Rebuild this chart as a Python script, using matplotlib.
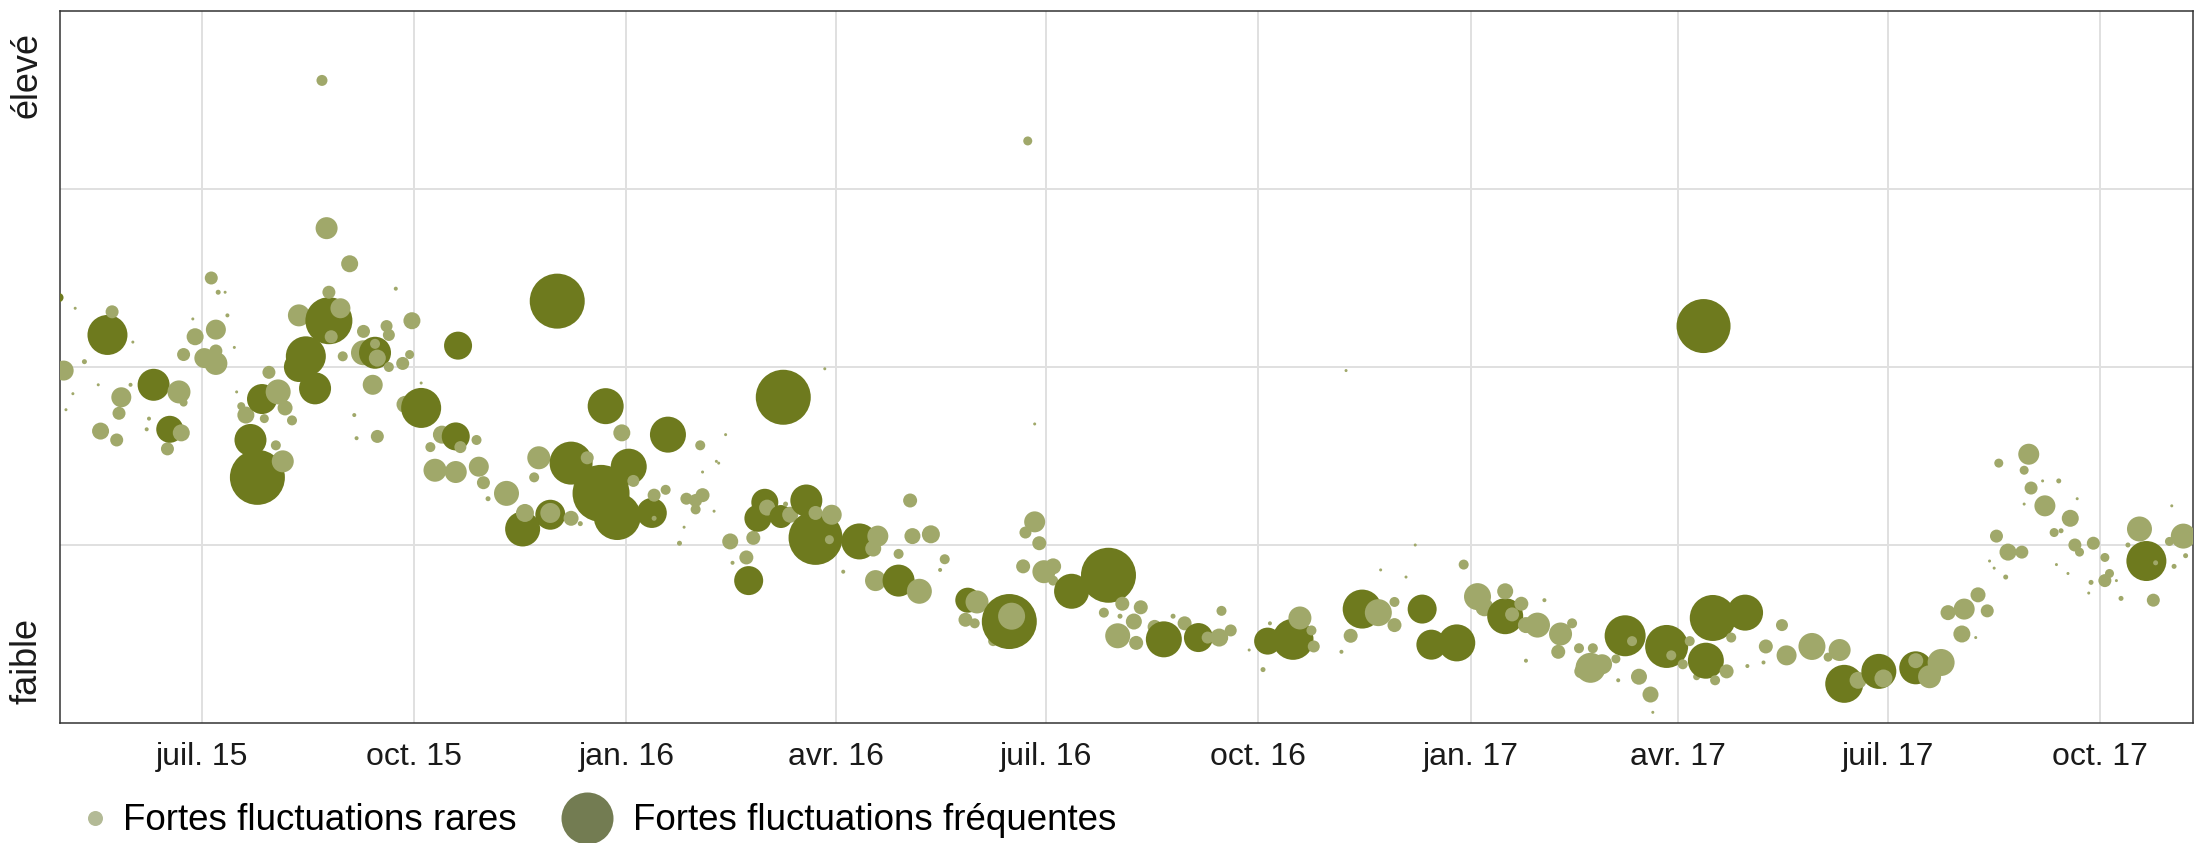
import datetime as dt

import numpy as np
import pandas as pd
import matplotlib
matplotlib.use("Agg")
import matplotlib.pyplot as plt
import matplotlib.dates as mdates
from matplotlib.lines import Line2D
from matplotlib.ticker import FixedLocator, FuncFormatter

plt.rcParams["font.family"] = ["Liberation Sans", "DejaVu Sans"]

DPI = 100

# niveau : 0 = faible ... 4 = élevé ; ampleur : taille du point (diamètre en px)

# -- fortes fluctuations fréquentes (points foncés)
dates_freq = [
    "2015-04-30", "2015-05-21", "2015-06-10", "2015-06-17", "2015-07-22", "2015-07-25",
    "2015-07-27", "2015-08-12", "2015-08-15", "2015-08-19", "2015-08-25", "2015-09-14",
    "2015-10-04", "2015-10-19", "2015-10-20", "2015-11-17", "2015-11-29", "2015-12-02",
    "2015-12-08", "2015-12-21", "2015-12-23", "2015-12-28", "2016-01-02", "2016-01-12",
    "2016-01-19", "2016-02-23", "2016-02-27", "2016-03-01", "2016-03-08", "2016-03-09",
    "2016-03-19", "2016-03-23", "2016-04-11", "2016-04-28", "2016-05-28", "2016-06-15",
    "2016-07-12", "2016-07-28", "2016-08-21", "2016-09-05", "2016-10-05", "2016-10-16",
    "2016-11-15", "2016-12-11", "2016-12-15", "2016-12-26", "2017-01-16", "2017-03-09",
    "2017-03-27", "2017-04-12", "2017-04-13", "2017-04-16", "2017-04-30", "2017-06-12",
    "2017-06-27", "2017-07-13", "2017-10-21",
]
niveau_freq = [
    2.39, 2.18, 1.90, 1.65, 1.59, 1.38,
    1.82, 2.00, 2.06, 1.88, 2.26, 2.08,
    1.77, 1.61, 2.12, 1.09, 1.17, 2.37,
    1.46, 1.29, 1.78, 1.16, 1.44, 1.18,
    1.62, 0.80, 1.15, 1.24, 1.16, 1.83,
    1.25, 1.04, 1.02, 0.80, 0.69, 0.57,
    0.74, 0.83, 0.47, 0.48, 0.46, 0.47,
    0.64, 0.64, 0.44, 0.45, 0.60, 0.49,
    0.43, 2.23, 0.35, 0.59, 0.62, 0.22,
    0.29, 0.31, 0.91,
]
ampleur_freq = [
    9, 40, 32, 27, 32, 55,
    30, 30, 40, 32, 47, 32,
    40, 28, 28, 35, 30, 55,
    43, 57, 36, 47, 36, 30,
    36, 29, 27, 27, 23, 55,
    32, 54, 36, 32, 25, 55,
    35, 55, 36, 29, 27, 41,
    39, 29, 30, 37, 36, 41,
    43, 54, 36, 46, 36, 38,
    35, 33, 40,
]

# -- fortes fluctuations rares (points clairs)
dates_rares = [
    "2015-05-02", "2015-05-23", "2015-05-27", "2015-06-21", "2015-05-26", "2015-05-18", "2015-05-25", "2015-06-22",
    "2015-06-16", "2015-06-23", "2015-07-05", "2015-07-07", "2015-06-28", "2015-06-23", "2015-07-02", "2015-07-07",
    "2015-07-07", "2015-08-24", "2015-09-03", "2015-08-25", "2015-08-12", "2015-08-30", "2015-08-26", "2015-08-03",
    "2015-08-06", "2015-07-30", "2015-07-20", "2015-07-18", "2015-07-28", "2015-08-09", "2015-08-02", "2015-08-05",
    "2015-09-09", "2015-08-31", "2015-09-09", "2015-09-15", "2015-09-14", "2015-09-19", "2015-09-20", "2015-09-30",
    "2015-09-20", "2015-09-26", "2015-09-29", "2015-09-13", "2015-09-15", "2015-09-27", "2015-10-13", "2015-10-21",
    "2015-10-28", "2015-10-08", "2015-10-10", "2015-10-19", "2015-10-29", "2015-10-31", "2015-08-22", "2015-12-30",
    "2016-02-02", "2015-11-24", "2015-12-15", "2016-01-04", "2016-01-13", "2016-01-18", "2015-11-29", "2015-11-10",
    "2015-11-18", "2015-11-22", "2015-12-08", "2016-01-27", "2016-01-31", "2016-01-31", "2016-03-02", "2016-03-12",
    "2016-03-23", "2016-03-30", "2016-04-19", "2016-04-17", "2016-02-15", "2016-02-25", "2016-02-22", "2016-03-29",
    "2016-02-03", "2016-04-18", "2016-05-07", "2016-05-03", "2016-05-04", "2016-05-12", "2016-04-28", "2016-05-18",
    "2016-06-01", "2016-05-27", "2016-05-31", "2016-06-16", "2016-06-08", "2016-06-26", "2016-06-22", "2016-06-28",
    "2016-06-21", "2016-06-30", "2016-07-04", "2016-07-04", "2016-08-03", "2016-08-11", "2016-07-26", "2016-08-08",
    "2016-08-01", "2016-08-09", "2016-08-17", "2016-08-30", "2016-09-09", "2016-09-14", "2016-09-19", "2016-09-15",
    "2016-06-23", "2016-10-19", "2016-10-24", "2016-10-25", "2016-11-22", "2016-11-29", "2016-11-29", "2016-11-10",
    "2016-12-29", "2017-01-04", "2017-01-07", "2017-01-12", "2017-01-16", "2017-01-23", "2017-01-19", "2017-01-30",
    "2017-01-25", "2017-02-09", "2017-02-14", "2017-02-08", "2017-02-17", "2017-02-23", "2017-02-22", "2017-02-27",
    "2017-02-18", "2017-03-12", "2017-03-05", "2017-03-29", "2017-03-15", "2017-03-20", "2017-04-06", "2017-04-03",
    "2017-04-24", "2017-04-22", "2017-05-09", "2017-04-17", "2017-04-09", "2017-07-24", "2017-07-19", "2017-06-29",
    "2017-06-18", "2017-07-13", "2017-05-29", "2017-05-18", "2017-06-10", "2017-06-05", "2017-05-16", "2017-08-02",
    "2017-07-27", "2017-08-03", "2017-08-09", "2017-08-13", "2017-08-17", "2017-08-22", "2017-08-28", "2017-08-31",
    "2017-08-29", "2017-08-18", "2017-09-01", "2017-09-07", "2017-09-18", "2017-09-11", "2017-09-20", "2017-09-22",
    "2017-09-28", "2017-10-03", "2017-10-05", "2017-10-03", "2017-10-18", "2017-11-06", "2017-10-31", "2017-10-24",
]
niveau_rares = [
    1.98, 2.31, 1.83, 1.86, 1.74, 1.64, 1.59, 1.63,
    1.54, 1.80, 2.50, 2.21, 2.17, 2.07, 2.05, 2.02,
    2.09, 2.78, 2.58, 2.42, 2.29, 2.33, 2.17, 1.86,
    1.77, 1.97, 1.73, 1.78, 1.71, 1.70, 1.56, 1.47,
    2.20, 2.06, 2.08, 2.05, 2.13, 2.23, 2.18, 2.26,
    2.00, 2.02, 2.07, 1.90, 1.61, 1.79, 1.62, 1.55,
    1.59, 1.55, 1.42, 1.41, 1.44, 1.35, 3.61, 1.63,
    1.56, 1.49, 1.49, 1.36, 1.28, 1.31, 1.18, 1.29,
    1.18, 1.38, 1.15, 1.26, 1.25, 1.20, 1.21, 1.17,
    1.18, 1.17, 1.05, 0.98, 1.02, 1.04, 0.93, 1.03,
    1.28, 0.80, 0.74, 1.25, 1.05, 1.06, 0.95, 0.92,
    0.68, 0.58, 0.56, 0.60, 0.46, 1.13, 1.07, 1.01,
    0.88, 0.85, 0.88, 0.80, 0.67, 0.65, 0.62, 0.57,
    0.49, 0.45, 0.54, 0.56, 0.48, 0.48, 0.52, 0.63,
    3.27, 0.59, 0.52, 0.43, 0.62, 0.68, 0.55, 0.49,
    0.89, 0.71, 0.65, 0.60, 0.74, 0.67, 0.61, 0.55,
    0.55, 0.50, 0.56, 0.40, 0.42, 0.42, 0.31, 0.33,
    0.29, 0.46, 0.36, 0.38, 0.26, 0.16, 0.46, 0.33,
    0.48, 0.29, 0.43, 0.24, 0.26, 0.34, 0.26, 0.25,
    0.24, 0.35, 0.43, 0.38, 0.41, 0.37, 0.55, 0.50,
    0.62, 0.64, 0.72, 0.63, 1.05, 0.96, 0.96, 1.51,
    1.42, 1.46, 1.32, 1.22, 1.15, 1.07, 1.00, 0.96,
    1.01, 0.93, 0.84, 0.80, 1.09, 1.05, 1.02, 0.69,
]
ampleur_rares = [
    20, 13, 20, 23, 13, 17, 13, 17,
    13, 8, 13, 20, 17, 13, 20, 23,
    13, 22, 17, 13, 22, 20, 13, 25,
    15, 13, 17, 8, 9, 10, 10, 22,
    13, 10, 25, 17, 10, 12, 12, 17,
    10, 13, 9, 20, 13, 17, 18, 12,
    10, 10, 23, 22, 20, 13, 11, 17,
    10, 23, 13, 12, 13, 10, 20, 25,
    18, 10, 15, 12, 13, 10, 16, 16,
    14, 20, 21, 16, 16, 14, 14, 9,
    14, 21, 25, 14, 16, 18, 10, 10,
    23, 14, 10, 27, 10, 21, 12, 14,
    14, 23, 16, 10, 14, 14, 10, 16,
    25, 14, 14, 14, 12, 18, 12, 10,
    9, 23, 10, 12, 27, 10, 14, 14,
    10, 27, 18, 16, 16, 14, 14, 25,
    16, 23, 10, 14, 10, 10, 30, 20,
    14, 10, 9, 10, 16, 16, 10, 10,
    10, 14, 14, 10, 7, 27, 23, 18,
    17, 15, 27, 20, 22, 9, 12, 17,
    15, 21, 15, 13, 13, 17, 13, 21,
    9, 9, 13, 21, 17, 9, 13, 9,
    13, 9, 9, 13, 25, 25, 9, 13,
]

# -- très petits points (même catégorie que les fluctuations rares)
dates_petits = [
    "2015-07-08", "2015-07-11", "2015-07-12", "2015-09-23", "2015-09-05", "2015-09-06", "2015-06-08", "2015-06-07",
    "2015-05-31", "2015-05-11", "2015-05-07", "2015-06-27", "2015-06-01", "2015-05-17", "2015-07-15", "2015-07-16",
    "2015-10-04", "2015-11-02", "2015-05-06", "2015-05-03", "2016-02-13", "2016-02-09", "2016-02-03", "2016-01-13",
    "2015-12-12", "2016-03-27", "2016-01-24", "2016-02-08", "2016-01-26", "2016-03-10", "2016-06-01", "2016-08-02",
    "2016-08-25", "2016-10-03", "2016-05-16", "2016-09-27", "2016-02-16", "2016-04-04", "2016-02-10", "2016-10-06",
    "2016-11-06", "2017-01-25", "2017-02-02", "2017-03-06", "2017-03-21", "2016-11-23", "2016-12-04", "2016-12-08",
    "2017-05-01", "2017-05-08", "2017-09-13", "2017-09-14", "2017-08-21", "2017-09-27", "2017-10-10", "2017-11-02",
    "2017-11-07", "2017-10-13", "2017-11-01", "2017-09-21", "2017-09-06", "2017-08-29", "2017-08-14", "2017-08-16",
    "2017-09-12", "2017-09-17", "2017-09-26", "2017-10-08", "2017-08-08", "2017-10-25", "2016-11-08", "2016-06-26",
]
niveau_petits = [
    2.42, 2.42, 2.29, 2.44, 1.73, 1.60, 1.71, 1.65,
    1.90, 2.03, 2.33, 2.27, 2.14, 1.90, 2.11, 1.86,
    1.91, 1.26, 1.85, 1.76, 1.62, 1.47, 1.41, 1.15,
    1.12, 1.99, 1.01, 1.19, 1.10, 1.23, 0.66, 0.60,
    0.60, 0.30, 0.86, 0.41, 0.90, 0.85, 1.46, 0.56,
    0.40, 0.35, 0.69, 0.24, 0.06, 0.86, 0.82, 1.00,
    0.32, 0.34, 1.36, 1.08, 0.82, 0.79, 0.70, 0.88,
    0.94, 1.00, 1.22, 1.26, 1.36, 1.23, 0.91, 0.87,
    0.89, 0.84, 0.73, 0.80, 0.48, 0.90, 1.98, 1.68,
]
ampleur_petits = [
    5, 3, 4, 4, 4, 4, 4, 4,
    4, 5, 3, 3, 3, 3, 3, 3,
    3, 5, 3, 3, 3, 3, 3, 5,
    5, 3, 5, 3, 3, 5, 5, 5,
    5, 5, 4, 3, 4, 4, 3, 4,
    4, 4, 4, 4, 3, 3, 3, 3,
    4, 4, 5, 5, 5, 5, 5, 5,
    5, 5, 3, 3, 3, 3, 3, 3,
    3, 3, 3, 3, 3, 5, 3, 3,
]

GROUPES = ["Fortes fluctuations rares", "Fortes fluctuations fréquentes"]
MOIS_NUM = [1, 4, 7, 10]
MOIS_ABR = ["jan.", "avr.", "juil.", "oct."]
NIVEAUX = ["faible", "élevé"]

COL_RARE = "#a0a86a"
COL_FREQ = "#6e7a1e"


def taille(ampleur):
    # diamètre en px -> aire du marqueur en points^2
    return (np.asarray(ampleur, dtype=float) * 72.0 / DPI) ** 2


def make():
    assert len(dates_freq) == len(niveau_freq) == len(ampleur_freq)
    assert len(dates_rares) == len(niveau_rares) == len(ampleur_rares)
    assert len(dates_petits) == len(niveau_petits) == len(ampleur_petits)

    df = pd.concat([
        pd.DataFrame({"date": dates_freq, "niveau": niveau_freq,
                      "ampleur": ampleur_freq, "couleur": COL_FREQ}),
        pd.DataFrame({"date": dates_rares, "niveau": niveau_rares,
                      "ampleur": ampleur_rares, "couleur": COL_RARE}),
        pd.DataFrame({"date": dates_petits, "niveau": niveau_petits,
                      "ampleur": ampleur_petits, "couleur": COL_RARE}),
    ], ignore_index=True)
    df["date"] = pd.to_datetime(df["date"])
    df = df.sort_values("date", kind="stable")

    fig = plt.figure(figsize=(2195 / DPI, 843 / DPI), dpi=DPI)
    ax = fig.add_axes([60 / 2195, 120 / 843, 2133 / 2195, 712 / 843])

    ax.scatter(df["date"], df["niveau"], s=taille(df["ampleur"]), c=df["couleur"],
               linewidths=0, zorder=3)

    ax.set_xlim(dt.datetime(2015, 4, 30, 10), dt.datetime(2017, 11, 10, 5))
    ax.set_ylim(0, 4)

    mois = dict(zip(MOIS_NUM, MOIS_ABR))
    ax.xaxis.set_major_locator(mdates.MonthLocator(bymonth=MOIS_NUM))
    ax.xaxis.set_major_formatter(FuncFormatter(
        lambda v, _: f"{mois[mdates.num2date(v).month]} {mdates.num2date(v):%y}"))
    ax.yaxis.set_major_locator(FixedLocator([0.35, 3.64]))
    ax.set_yticklabels(NIVEAUX, rotation=90, va="center")
    ax.yaxis.set_minor_locator(FixedLocator([1, 2, 3]))

    ax.grid(True, axis="x", which="major", color="#e0e0e0", lw=1.4, zorder=0)
    ax.grid(True, axis="y", which="minor", color="#e0e0e0", lw=1.4, zorder=0)
    ax.grid(False, axis="y", which="major")
    ax.set_axisbelow(True)

    ax.tick_params(axis="x", which="major", length=0, pad=14, labelsize=23, labelcolor="#1a1a1a")
    ax.tick_params(axis="y", which="major", length=0, pad=11, labelsize=26, labelcolor="#1a1a1a")
    ax.tick_params(axis="y", which="minor", length=0)
    for sp in ax.spines.values():
        sp.set_color("#333333")
        sp.set_linewidth(1.1)

    # légende en bas, deux clés de tailles différentes
    h_rare = Line2D([], [], marker="o", ls="", markersize=15 * 0.72,
                    markerfacecolor="#b3ba96", markeredgewidth=0)
    h_freq = Line2D([], [], marker="o", ls="", markersize=52 * 0.72,
                    markerfacecolor="#737c52", markeredgewidth=0)
    common = dict(loc="center left", frameon=False, fontsize=26.5, borderpad=0,
                  borderaxespad=0, handletextpad=0.5)
    fig.legend([h_rare], [GROUPES[0]], bbox_to_anchor=(86 / 2195, 22 / 843),
               handlelength=0.5, **common)
    fig.legend([h_freq], [GROUPES[1]], bbox_to_anchor=(559 / 2195, 22 / 843),
               handlelength=1.5, **common)

    fig.savefig("out.png", dpi=DPI)
    plt.close(fig)


if __name__ == "__main__":
    make()
